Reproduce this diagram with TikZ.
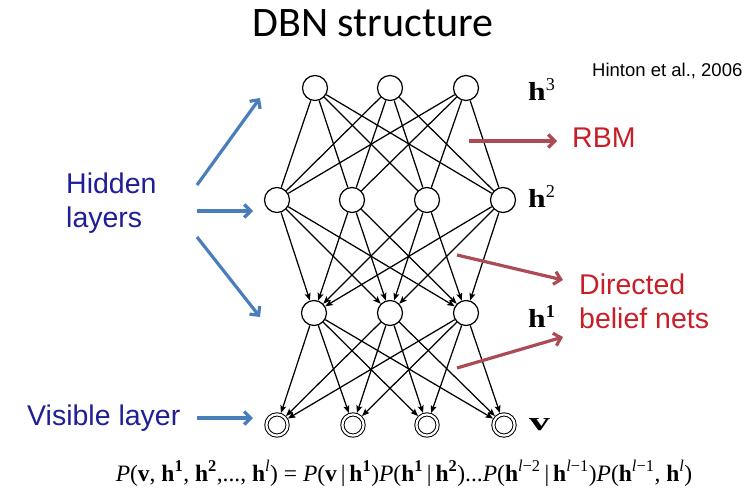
\documentclass[tikz,border=0pt]{standalone}
\usepackage{fontspec}
\setmainfont{Liberation Serif}
\newfontfamily\arialf{Liberation Sans}
\newfontfamily\calibrif{Carlito}
\usetikzlibrary{arrows.meta}
\definecolor{txtblue}{RGB}{30,30,150}
\definecolor{arrblue}{RGB}{74,126,187}
\definecolor{txtred}{RGB}{200,30,40}
\definecolor{arrred}{RGB}{170,75,85}
\newcommand\hsup[1]{\textbf{h}\textsuperscript{#1}}
\newcommand\wide[1]{\scalebox{1.22}[1]{#1}}
\begin{document}
\begin{tikzpicture}[x=1pt,y=-1pt,
 hid/.style={circle,draw,line width=1.25pt,minimum size=25pt,inner sep=0pt},
 vis/.style={circle,draw,line width=1pt,double,double distance=2.2pt,minimum size=21.2pt,inner sep=0pt,outer sep=2.1pt},
 undir/.style={line width=1.25pt},
 dir/.style={line width=1.25pt,-{Stealth[length=7.5pt,width=6pt,inset=1.5pt]}},
 bluearr/.style={arrblue,line width=3.2pt,-{Straight Barb[length=6.5pt,width=13pt]}},
 redarr/.style={arrred,line width=3.2pt,-{Straight Barb[length=6.5pt,width=13pt]}},
 lbl/.style={font=\fontsize{28.5}{34}\selectfont\arialf,inner sep=0pt,anchor=base west},
 hlab/.style={font=\fontsize{26}{30}\selectfont,inner sep=0pt,anchor=base west}]
\useasboundingbox (0,0) rectangle (747,495);
% title
\node[font=\fontsize{42}{50}\selectfont\calibrif,anchor=base,inner sep=0pt] (title) at (373,37) {DBN structure};
\node[font=\fontsize{18.5}{22}\selectfont\arialf,anchor=base west,inner sep=0pt] (cite) at (592,77) {Hinton et al., 2006};
% nodes
\node[hid] (c1) at (315,88) {};
\node[hid] (c2) at (390,88) {};
\node[hid] (c3) at (466,88) {};
\node[hid] (b1) at (277,200) {};
\node[hid] (b2) at (352,200) {};
\node[hid] (b3) at (427,200) {};
\node[hid] (b4) at (503,200) {};
\node[hid] (a1) at (314,313) {};
\node[hid] (a2) at (390,313) {};
\node[hid] (a3) at (466,313) {};
\node[vis] (v1) at (277,425) {};
\node[vis] (v2) at (353,425) {};
\node[vis] (v3) at (427,425) {};
\node[vis] (v4) at (504,425) {};
% edges
\foreach \t in {c1,c2,c3}{\foreach \s in {b1,b2,b3,b4}{\draw[undir] (\t) -- (\s);}}
\foreach \t in {b1,b2,b3,b4}{\foreach \s in {a1,a2,a3}{\draw[dir] (\t) -- (\s);}}
\foreach \t in {a1,a2,a3}{\foreach \s in {v1,v2,v3,v4}{\draw[dir] (\t) -- (\s);}}
% layer labels
\node[hlab] (l3) at (528,100) {\wide{\textbf{h}}\textsuperscript{3}};
\node[hlab] (l2) at (528,207) {\wide{\textbf{h}}\textsuperscript{2}};
\node[hlab] (l1) at (528,327) {\wide{\textbf{h}}\textsuperscript{\textbf{1}}};
\node[hlab] (l0) at (529,430) {\scalebox{1.6}[1]{\textbf{v}}};
% left texts
\node[lbl,txtblue] (hid1) at (66,193) {Hidden};
\node[lbl,txtblue] (hid2) at (66,227) {layers};
\node[lbl,txtblue] (vistxt) at (27,425) {Visible layer};
% right texts
\node[lbl,txtred] (rbm) at (572,147) {RBM};
\node[lbl,txtred] (dir1) at (579,294) {Directed};
\node[lbl,txtred] (dir2) at (579,328) {belief nets};
% blue arrows
\coordinate (bu0) at (197,185); \coordinate (bu1) at (260,98);
\coordinate (bm0) at (197,211); \coordinate (bm1) at (253,211);
\coordinate (bd0) at (197,237); \coordinate (bd1) at (260,317);
\coordinate (bv0) at (197,418); \coordinate (bv1) at (253,418);
\draw[bluearr] (bu0) -- (bu1);
\draw[bluearr] (bm0) -- (bm1);
\draw[bluearr] (bd0) -- (bd1);
\draw[bluearr] (bv0) -- (bv1);
% red arrows
\coordinate (r0) at (469,141); \coordinate (r1) at (557,141);
\coordinate (d10) at (457,255); \coordinate (d11) at (563,280);
\coordinate (d20) at (457,368); \coordinate (d21) at (563,337);
\draw[redarr] (r0) -- (r1);
\draw[redarr] (d10) -- (d11);
\draw[redarr] (d20) -- (d21);
% equation
\node[font=\fontsize{23.5}{28}\selectfont,anchor=base,inner sep=0pt] (eq) at (404,481)
{\textit{P}(\textbf{v}, \hsup{\textbf{1}}, \hsup{\textbf{2}},..., \hsup{\textit{l}}) = \textit{P}(\textbf{v}\,|\,\hsup{\textbf{1}})\textit{P}(\hsup{\textbf{1}}\,|\,\hsup{\textbf{2}})...\textit{P}(\hsup{\textit{l}−2}\,|\,\hsup{\textit{l}−1})\textit{P}(\hsup{\textit{l}−1}, \hsup{\textit{l}})};
\end{tikzpicture}
\end{document}
